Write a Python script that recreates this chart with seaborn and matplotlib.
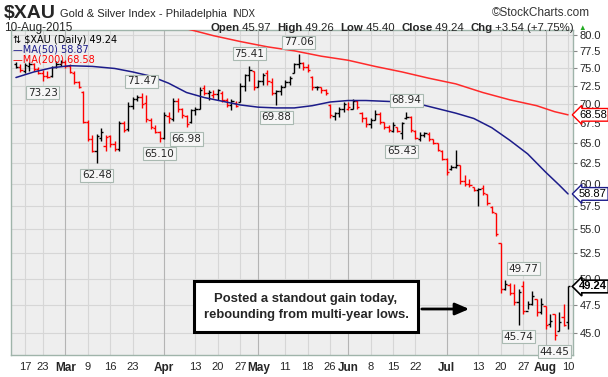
import pandas as pd
import matplotlib
matplotlib.use("Agg")
import matplotlib.pyplot as plt
import matplotlib.ticker as mticker
from matplotlib.patches import Rectangle
import seaborn as sns

sns.set_theme(style="white")
plt.rcParams['font.family'] = ['Liberation Sans', 'DejaVu Sans']

# trading days shown (Feb 12 - Aug 10 2015, market holidays removed)
days = pd.bdate_range("2015-02-12", "2015-08-10")
days = days[~days.isin(pd.to_datetime(["2015-02-16", "2015-04-03", "2015-05-25", "2015-07-03"]))]

# daily OHLC
opens = [75.6, 75.2, 74.6, 75.4, 75.6, 74.9, 74.3, 73.9, 73.9, 75.2, 75.6, 76.0, 75.3, 74.4, 73.0,
         71.7, 67.7, 65.5, 64.0, 65.6, 64.6, 65.8, 64.8, 64.2, 67.5, 66.7, 69.8, 70.7, 71.0, 70.2,
         67.9, 66.9, 66.3, 65.6, 68.4, 68.0, 70.5, 69.3, 68.4, 67.6, 69.2, 69.4, 72.2, 71.6, 71.3,
         71.4, 71.6, 70.6, 69.9, 70.2, 70.3, 72.5, 74.0, 74.6, 72.4, 73.2, 74.3, 73.0, 71.5, 71.8,
         72.4, 73.1, 74.4, 75.6, 75.8, 75.2, 73.8, 72.3, 72.3, 71.9, 69.9, 68.4, 68.8, 69.4, 69.3,
         69.4, 70.4, 68.8, 68.1, 67.4, 67.9, 68.7, 67.6, 67.0, 66.5, 67.0, 66.2, 68.1, 68.3, 66.5,
         65.4, 65.9, 66.1, 65.4, 64.9, 64.0, 63.0, 61.8, 62.0, 62.3, 60.3, 60.0, 59.7, 59.3, 59.5,
         58.9, 57.4, 56.7, 53.6, 49.0, 49.4, 48.6, 47.8, 49.3, 47.0, 47.6, 48.1, 46.9, 47.4, 45.8,
         46.7, 45.2, 46.4, 45.97]
highs = [75.9, 75.6, 75.8, 76.0, 75.8, 75.2, 74.8, 74.6, 75.4, 76.1, 76.3, 76.2, 75.7, 74.6, 73.2,
         71.8, 67.9, 66.0, 66.1, 66.8, 66.0, 66.0, 65.2, 67.8, 67.8, 70.3, 71.0, 71.2, 71.47, 71.2,
         68.2, 67.2, 66.5, 69.0, 69.0, 70.9, 70.8, 69.5, 68.5, 69.4, 69.6, 72.3, 72.7, 71.9, 72.0,
         72.1, 71.8, 70.9, 70.7, 70.4, 72.9, 74.2, 75.41, 74.7, 73.4, 74.4, 74.8, 73.6, 72.0, 72.7,
         73.4, 73.9, 75.8, 77.06, 76.0, 75.6, 73.9, 72.5, 72.4, 72.1, 70.0, 69.0, 69.6, 70.3, 70.3,
         70.7, 70.6, 68.9, 68.3, 68.2, 69.2, 68.9, 67.6, 67.3, 67.7, 67.0, 67.7, 68.94, 68.4, 66.6,
         66.3, 66.4, 66.3, 65.4, 64.9, 64.1, 63.1, 62.3, 64.1, 62.3, 61.1, 60.6, 59.7, 59.6, 59.9,
         58.9, 57.5, 56.7, 53.6, 49.9, 49.6, 49.5, 49.0, 49.77, 47.9, 48.8, 48.1, 48.2, 47.4, 46.7,
         46.7, 46.9, 47.6, 49.26]
lows = [75.0, 74.5, 74.3, 74.6, 74.6, 74.2, 73.23, 73.7, 73.8, 75.0, 75.3, 75.0, 74.3, 72.8, 72.2,
        67.5, 65.2, 63.8, 62.48, 65.2, 64.0, 64.5, 64.0, 64.0, 66.3, 66.5, 69.4, 70.5, 69.5, 67.6,
        66.7, 66.2, 65.10, 65.5, 67.5, 67.8, 69.0, 68.2, 66.98, 67.5, 68.6, 69.3, 71.3, 70.6, 70.8,
        70.6, 70.3, 69.6, 69.2, 69.6, 70.3, 71.8, 73.2, 72.0, 72.4, 72.6, 72.7, 71.3, 69.88, 71.3,
        72.4, 72.7, 74.3, 75.0, 74.8, 74.5, 72.0, 72.0, 71.6, 71.3, 68.2, 67.9, 68.3, 69.0, 69.2,
        69.4, 69.3, 67.7, 67.0, 66.9, 67.9, 67.4, 66.7, 66.3, 66.3, 66.3, 65.43, 68.0, 66.4, 65.5,
        65.2, 65.7, 65.2, 64.8, 63.9, 62.8, 61.1, 61.7, 61.9, 60.0, 59.8, 59.7, 59.2, 57.5, 58.8,
        57.6, 56.7, 54.3, 48.6, 48.9, 48.4, 47.5, 45.74, 46.7, 47.1, 47.5, 46.5, 46.7, 45.4, 45.5,
        44.45, 45.2, 45.6, 45.40]
closes = [75.2, 74.8, 75.5, 75.7, 74.9, 74.4, 73.9, 73.8, 75.2, 75.6, 76.0, 75.3, 74.5, 73.1, 72.4,
          67.7, 65.4, 64.0, 65.8, 66.4, 65.7, 64.8, 64.2, 67.5, 66.6, 69.8, 70.7, 71.0, 70.0, 68.0,
          67.0, 66.4, 65.6, 68.6, 68.1, 70.5, 69.4, 68.5, 67.4, 69.2, 69.3, 72.0, 71.6, 71.7, 71.4,
          71.9, 70.6, 69.9, 70.4, 69.8, 72.5, 74.0, 74.8, 72.4, 73.2, 74.1, 73.2, 71.6, 71.8, 72.4,
          73.1, 73.6, 75.6, 75.8, 75.2, 74.8, 72.3, 72.4, 72.0, 71.5, 68.5, 68.8, 69.4, 70.0, 69.6,
          70.4, 69.6, 68.1, 67.4, 67.9, 68.7, 67.6, 67.0, 66.6, 67.3, 66.5, 67.5, 68.3, 66.6, 65.6,
          65.9, 66.2, 65.4, 65.0, 64.1, 63.0, 61.4, 62.0, 62.3, 60.3, 60.0, 59.9, 59.3, 59.4, 59.0,
          57.8, 56.9, 54.5, 49.0, 49.5, 48.6, 47.8, 48.7, 47.0, 47.6, 48.3, 46.9, 47.6, 45.7, 46.1,
          44.8, 46.0, 45.7, 49.24]

# moving averages, read at sample bars
ma50_idx = [0, 4, 8, 12, 17, 22, 26, 30, 34, 38, 42, 46, 50, 54, 58, 62, 66, 70, 74, 78, 82, 86,
            90, 94, 98, 102, 106, 110, 114, 118, 121, 123]
ma50_val = [73.7, 74.5, 75.1, 75.4, 75.3, 75.0, 74.5, 73.9, 72.9, 71.6, 70.9, 70.4, 69.9, 69.6,
            69.5, 69.5, 69.8, 70.3, 70.5, 70.5, 70.4, 70.3, 70.0, 69.4, 68.8, 68.1, 66.9, 65.3,
            63.6, 61.4, 59.9, 58.87]
ma200_idx = [36, 39, 44, 50, 56, 62, 68, 74, 80, 86, 92, 98, 104, 110, 116, 120, 123]
ma200_val = [81.3, 80.8, 79.9, 79.0, 78.2, 77.6, 76.8, 76.2, 75.3, 74.5, 73.6, 72.8, 71.6, 70.6,
             69.8, 69.0, 68.58]

ytick_vals = [45.0, 47.5, 50.0, 52.5, 55.0, 57.5, 60.0, 62.5, 65.0, 67.5, 70.0, 72.5, 75.0, 77.5, 80.0]
xtick_dates = ["2015-02-17", "2015-02-23", "2015-03-02", "2015-03-09", "2015-03-16", "2015-03-23",
               "2015-04-01", "2015-04-13", "2015-04-20", "2015-04-27", "2015-05-01", "2015-05-11",
               "2015-05-18", "2015-05-26", "2015-06-01", "2015-06-08", "2015-06-15", "2015-06-22",
               "2015-07-01", "2015-07-13", "2015-07-20", "2015-07-27", "2015-08-03", "2015-08-10"]
xtick_labels = ["17", "23", "Mar", "9", "16", "23", "Apr", "13", "20", "27", "May", "11", "18", "26",
                "Jun", "8", "15", "22", "Jul", "13", "20", "27", "Aug", "10"]
months = ["Mar", "Apr", "May", "Jun", "Jul", "Aug"]

# marked highs / lows: (bar, value, above?)
marks = [(6, 73.23, False), (18, 62.48, False), (28, 71.47, True), (32, 65.10, False),
         (38, 66.98, False), (52, 75.41, True), (58, 69.88, False), (63, 77.06, True),
         (87, 68.94, True), (86, 65.43, False), (113, 49.77, True), (112, 45.74, False),
         (120, 44.45, False)]

df = pd.DataFrame({"open": opens, "high": highs, "low": lows, "close": closes})
df["i"] = range(len(df))
df["up"] = df["close"].diff().fillna(1) >= 0
df["col"] = df["up"].map({True: "black", False: "#ff0000"})

W, H = 608, 377
fig = plt.figure(figsize=(W / 100, H / 100), dpi=100)
fig.patch.set_facecolor("white")
ax = fig.add_axes([11 / W, 1 - 355 / H, (573 - 11) / W, (355 - 30) / H])
ax.set_facecolor("#eeeeee")

ax.set_yscale("log")
ax.set_ylim(43.14, 80.78)
ax.set_xlim(-1.1, 124.1)

# grid
for v in ytick_vals:
    ax.axhline(v, color="#d6d6d6", lw=0.8, zorder=0)
pos = {d: k for k, d in enumerate(days.strftime("%Y-%m-%d"))}
xt = [pos[d] for d in xtick_dates]
for x, lab in zip(xt, xtick_labels):
    ax.axvline(x, color="#b4b4b4" if lab in months else "#d6d6d6", lw=0.8, zorder=0)

# OHLC bars
ax.vlines(df["i"], df["low"], df["high"], colors=df["col"], lw=1.0, zorder=3)
ax.hlines(df["open"], df["i"] - 0.5, df["i"], colors=df["col"], lw=1.0, zorder=3)
ax.hlines(df["close"], df["i"], df["i"] + 0.5, colors=df["col"], lw=1.0, zorder=3)

# moving averages
sns.lineplot(x=ma50_idx, y=ma50_val, color="#1c1c8a", lw=1.1, ax=ax, zorder=4)
sns.lineplot(x=ma200_idx, y=ma200_val, color="#ff2a2a", lw=1.1, ax=ax, zorder=4)

ax.yaxis.tick_right()
ax.yaxis.set_major_locator(mticker.FixedLocator(ytick_vals))
ax.yaxis.set_major_formatter(mticker.FormatStrFormatter("%.1f"))
ax.yaxis.set_minor_locator(mticker.NullLocator())
ax.tick_params(axis="y", length=3, width=0.8, color="#888888", pad=1.5, labelsize=8, right=True)
ax.set_xticks(xt)
ax.set_xticklabels(xtick_labels)
ax.tick_params(axis="x", length=0, pad=5, labelsize=8)
for t in ax.get_xticklabels():
    if t.get_text() in months:
        t.set_fontweight("bold")
        t.set_fontsize(8.5)
ax.set_xlabel("")
ax.set_ylabel("")
for s in ax.spines.values():
    s.set_color("#9fb4aa")
    s.set_linewidth(1)
ax.spines["bottom"].set_linestyle((0, (1, 1)))

# marked values
for i, v, above in marks:
    ax.annotate(f"{v:.2f}", xy=(i, v), xytext=(0, 12 if above else -12), textcoords="offset pixels",
                ha="center", va="center", fontsize=7.5, family="DejaVu Sans", zorder=6,
                bbox=dict(boxstyle="square,pad=0.15", fc="#f6f6f6", ec="#a9b9b1", lw=0.8))

# value tags on the right axis
for v, c, bold in [(68.58, "#ff0000", False), (58.87, "#1c1c8a", False), (49.24, "black", True)]:
    ax.annotate(f"{v:.2f}", xy=(1.0, v), xycoords=("axes fraction", "data"), xytext=(6, 0),
                textcoords="offset pixels", ha="left", va="center", fontsize=8,
                fontweight="bold" if bold else "normal", color="black", zorder=7,
                bbox=dict(boxstyle="larrow,pad=0.12", fc="white", ec=c, lw=1.2 if bold else 1),
                annotation_clip=False)

# legend in the panel
ax.text(0.004, 0.985, "\u21c5 $XAU (Daily) 49.24", transform=ax.transAxes, ha="left", va="top",
        fontsize=7, family="DejaVu Sans", color="black")
ax.text(0.004, 0.955, "\u2014MA(50) 58.87", transform=ax.transAxes, ha="left", va="top",
        fontsize=7, family="DejaVu Sans", color="#1c1c8a")
ax.text(0.004, 0.925, "\u2014MA(200) 68.58", transform=ax.transAxes, ha="left", va="top",
        fontsize=7, family="DejaVu Sans", color="#ff0000")

# header
r = fig.canvas.get_renderer()

def ftext(x, y, s, **kw):
    return fig.text(x / W, 1 - y / H, s, va="baseline", **kw)

ftext(4, 18, "$XAU", fontsize=14, fontweight="bold")
t = ftext(60, 17, "Gold & Silver Index - Philadelphia", fontsize=8)
ftext(60 + t.get_window_extent(r).width + 5, 17, "INDX", fontsize=7)
ftext(590, 16, "\u00a9StockCharts.com", fontsize=8.5, ha="right", color="#333333")
ftext(4, 31, "10-Aug-2015", fontsize=8.5)
hdr = [("Open", True), (" 45.97  ", False), ("High", True), (" 49.26  ", False), ("Low", True),
       (" 45.40  ", False), ("Close", True), (" 49.24  ", False), ("Chg", True), (" +3.54 (+7.75%)", False)]
parts = [ftext(0, 31, s, fontsize=8.2, fontweight="bold" if b else "normal") for s, b in hdr]
widths = [p.get_window_extent(r).width for p in parts]
x0 = 574 - sum(widths)
for p, w in zip(parts, widths):
    p.set_x(x0 / W)
    x0 += w
ftext(578, 30, "\u25b2", fontsize=5.5, color="#22aa22")

# callout
fig.add_artist(Rectangle((194 / W, 1 - 332 / H), (418 - 194) / W, (332 - 281) / H,
                         transform=fig.transFigure, fc="white", ec="black", lw=2.2, zorder=8))
fig.text(306 / W, 1 - 302 / H, "Posted a standout gain today,", ha="center", va="baseline",
         fontsize=9.4, fontweight="bold", zorder=9)
fig.text(306 / W, 1 - 318 / H, "rebounding from multi-year lows.", ha="center", va="baseline",
         fontsize=9.4, fontweight="bold", zorder=9)
ax.annotate("", xy=(472, H - 309), xycoords="figure pixels", xytext=(419, H - 309),
            textcoords="figure pixels",
            arrowprops=dict(arrowstyle="-|>,head_length=0.7,head_width=0.3", lw=2, color="black"),
            annotation_clip=False, zorder=9)

fig.savefig("out.png", dpi=100)
